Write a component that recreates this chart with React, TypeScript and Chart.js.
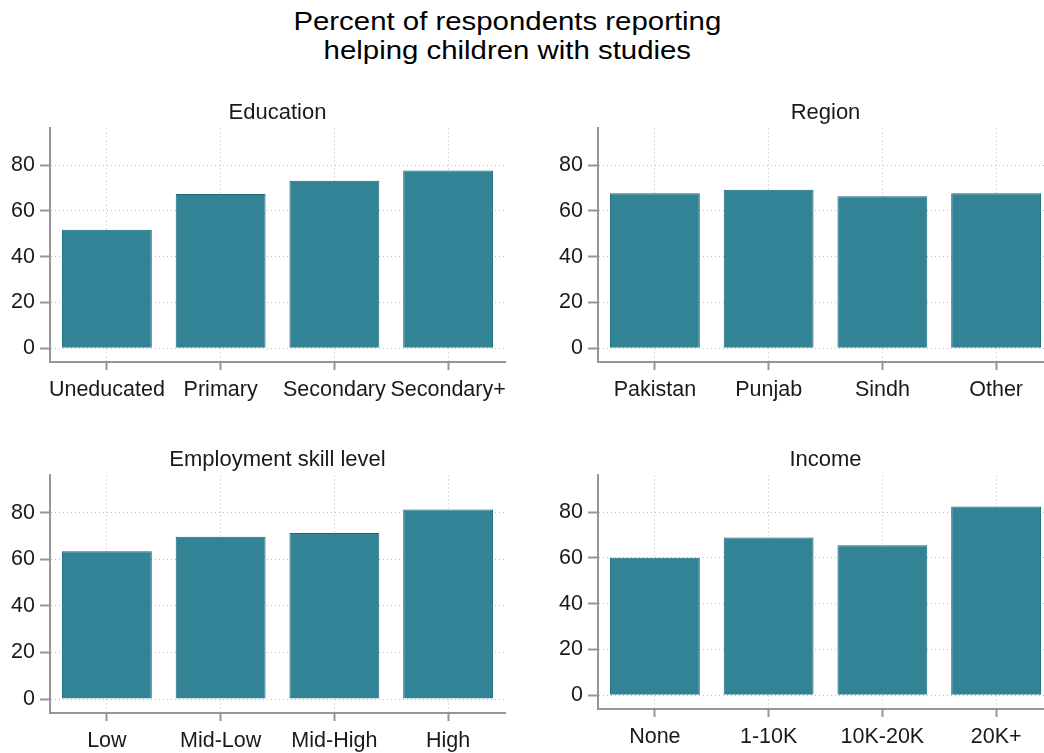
import React, { useEffect, useRef } from "react";
import { Chart, registerables } from "chart.js";

Chart.register(...registerables);

const titleLines = ["Percent of respondents reporting", "helping children with studies"];

const educationTitle = "Education";
const educationLabels = ["Uneducated", "Primary", "Secondary", "Secondary+"];
const educationValues = [51.8, 67.4, 73.1, 77.6];

const regionTitle = "Region";
const regionLabels = ["Pakistan", "Punjab", "Sindh", "Other"];
const regionValues = [67.7, 69.2, 66.4, 67.7];

const skillTitle = "Employment skill level";
const skillLabels = ["Low", "Mid-Low", "Mid-High", "High"];
const skillValues = [63.4, 69.7, 71.3, 81.4];

const incomeTitle = "Income";
const incomeLabels = ["None", "1-10K", "10K-20K", "20K+"];
const incomeValues = [60.0, 68.9, 65.5, 82.4];

const yTickValues = [0, 20, 40, 60, 80];
const yMin = -6;
const yMax = 96;

const FONT = "'Liberation Sans', Arial, Helvetica, sans-serif";
const TEXT = "#1a1a1a";
const GRID = "#bdbdbd";
const AXIS = "#969696";
const BAR_FILL = "rgb(51,131,151)";
const BAR_EDGE = "rgb(26,104,124)";

type PanelProps = {
  title: string;
  labels: string[];
  values: number[];
  left: number;
  top: number;
  width: number;
  height: number;
};

function Panel({ title, labels, values, left, top, width, height }: PanelProps) {
  const ref = useRef<HTMLCanvasElement | null>(null);
  useEffect(() => {
    if (!ref.current) return;
    const chart = new Chart(ref.current, {
      type: "bar",
      data: {
        labels,
        datasets: [
          {
            data: values,
            backgroundColor: BAR_FILL,
            borderColor: BAR_EDGE,
            borderWidth: 1,
            barPercentage: 0.79,
            categoryPercentage: 1,
          },
        ],
      },
      options: {
        animation: false,
        responsive: false,
        maintainAspectRatio: false,
        devicePixelRatio: 1,
        layout: { padding: { left: 0, right: 15, top: 0, bottom: 0 } },
        plugins: {
          legend: { display: false },
          tooltip: { enabled: false },
          title: {
            display: true,
            text: title,
            fullSize: false,
            color: TEXT,
            font: { family: FONT, size: 22, weight: "normal" },
            padding: { top: 1, bottom: 2 },
          },
        },
        scales: {
          x: {
            type: "category",
            offset: true,
            grid: {
              offset: false,
              color: GRID,
              lineWidth: 1,
              drawTicks: true,
              tickLength: 8,
              tickColor: AXIS,
              tickWidth: 2,
              tickBorderDash: [],
            },
            border: { display: true, color: AXIS, width: 2, dash: [1, 3] },
            ticks: {
              color: TEXT,
              font: { family: FONT, size: 21.5 },
              padding: 7,
              maxRotation: 0,
              minRotation: 0,
              autoSkip: false,
            },
            afterFit: (s: any) => {
              s.height = 40;
              s.paddingLeft = 0;
              s.paddingRight = 0;
            },
          },
          y: {
            type: "linear",
            min: yMin,
            max: yMax,
            afterBuildTicks: (s: any) => {
              s.ticks = yTickValues.map((v) => ({ value: v }));
            },
            grid: {
              color: GRID,
              lineWidth: 1,
              drawTicks: true,
              tickLength: 10,
              tickColor: AXIS,
              tickWidth: 2,
              tickBorderDash: [],
            },
            border: { display: true, color: AXIS, width: 2, dash: [1, 3] },
            ticks: {
              color: TEXT,
              font: { family: FONT, size: 21.5 },
              padding: 5,
            },
            afterFit: (s: any) => {
              s.width = 50;
              s.paddingTop = 0;
              s.paddingBottom = 0;
            },
          },
        },
      },
    } as any);
    return () => chart.destroy();
  }, [title, labels, values]);
  return (
    <canvas
      ref={ref}
      width={width}
      height={height}
      style={{ position: "absolute", left, top, width, height }}
    />
  );
}

export default function App() {
  return (
    <div
      style={{
        position: "fixed",
        left: 0,
        top: 0,
        width: 1044,
        height: 753,
        overflow: "hidden",
        background: "#ffffff",
      }}
    >
      <div
        style={{
          position: "absolute",
          left: 0,
          top: 6.5,
          width: 1014,
          textAlign: "center",
        }}
      >
        <div
          style={{
            display: "inline-block",
            transform: "scaleX(1.13)",
            transformOrigin: "center",
            fontFamily: FONT,
            fontSize: 26,
            lineHeight: "29px",
            color: "#000",
            whiteSpace: "nowrap",
          }}
        >
          {titleLines.map((t, i) => (
            <div key={i}>{t}</div>
          ))}
        </div>
      </div>
      <Panel title={educationTitle} labels={educationLabels} values={educationValues} left={0} top={99} width={520} height={303} />
      <Panel title={regionTitle} labels={regionLabels} values={regionValues} left={548} top={99} width={520} height={303} />
      <Panel title={skillTitle} labels={skillLabels} values={skillValues} left={0} top={446} width={520} height={307} />
      <Panel title={incomeTitle} labels={incomeLabels} values={incomeValues} left={548} top={446} width={520} height={303} />
    </div>
  );
}
